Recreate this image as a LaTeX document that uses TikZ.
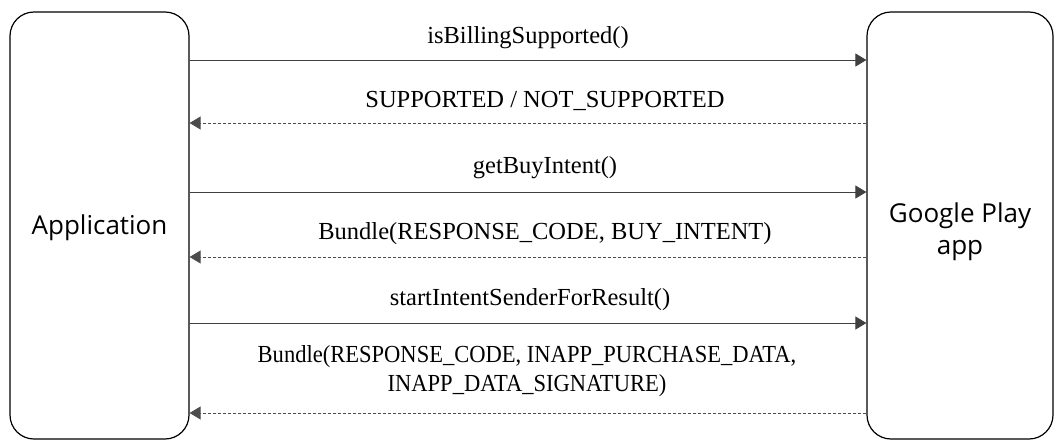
\documentclass[tikz,border=0pt]{standalone}
\usepackage{fontspec}
\setmainfont{Liberation Serif}
\newfontfamily\boxfont{Open Sans}
\usetikzlibrary{arrows.meta}

\begin{document}
\begin{tikzpicture}[x=1pt,y=-1pt,-{Triangle[length=11pt,width=13pt]}]
            \tikzstyle{side}=[draw=black,line width=1.2pt,rounded corners=24pt,minimum width=179pt,minimum height=427pt,inner sep=0pt,align=center,font=\boxfont\fontsize{26}{32}\selectfont]
            \tikzstyle{call}=[draw=black!75,line width=0.9pt]
            \tikzstyle{reply}=[draw=black!70,line width=0.8pt,dash pattern=on 3pt off 2pt]
            \tikzstyle{label}=[inner sep=0pt,align=center,font=\fontsize{24.5}{29}\selectfont]

                \useasboundingbox (0,0) rectangle (1054,440);

                \node[side] (App) at (99.5, 225.5){};
                \node[side,minimum width=186pt] (GP) at (960, 225.5){};
                \node[font=\boxfont\fontsize{26}{32}\selectfont] (App-name) at (99.5, 228){Application};
                \node[font=\boxfont\fontsize{26}{32}\selectfont,align=center] (GP-name) at (960, 232){Google Play\\app};

                % messages between the two sides
                \foreach \y/\m in {60/1, 123/2, 192/3, 257/4, 323/5, 413/6}{
                    \coordinate (A-\m) at (App.east |- 0,\y);
                    \coordinate (G-\m) at (GP.west |- 0,\y);
                }

                \draw[call] (A-1) -- (G-1);
                \draw[reply] (G-2) -- (A-2);
                \draw[call] (A-3) -- (G-3);
                \draw[reply] (G-4) -- (A-4);
                \draw[call] (A-5) -- (G-5);
                \draw[reply] (G-6) -- (A-6);

                \node[label] (L-1) at (528, 38){isBillingSupported()};
                \node[label] (L-2) at (545, 101){SUPPORTED / NOT\_SUPPORTED};
                \node[label] (L-3) at (545, 168){getBuyIntent()};
                \node[label] (L-4) at (545, 234){Bundle(RESPONSE\_CODE, BUY\_INTENT)};
                \node[label] (L-5) at (530, 300){startIntentSenderForResult()};
                \node[label,transform shape,xscale=0.92] (L-6) at (527, 371){Bundle(RESPONSE\_CODE, INAPP\_PURCHASE\_DATA,\\INAPP\_DATA\_SIGNATURE)};
        \end{tikzpicture}
\end{document}
